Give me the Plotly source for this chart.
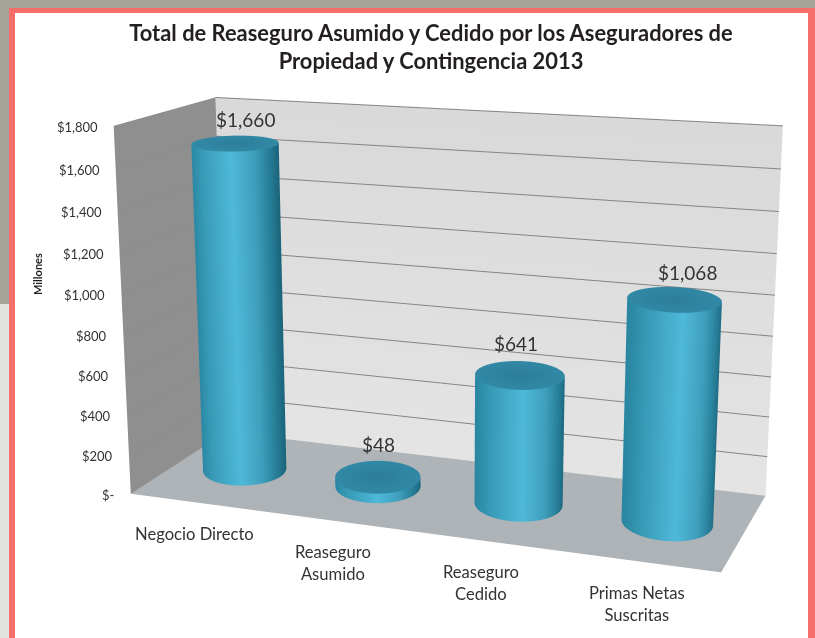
import numpy as np
import plotly.graph_objects as go

# ---- data ----
categories = ["Negocio Directo", "Reaseguro<br>Asumido", "Reaseguro<br>Cedido", "Primas Netas<br>Suscritas"]
values = [1660, 48, 641, 1068]
value_labels = ["$1,660", "$48", "$641", "$1,068"]
tick_values = [0, 200, 400, 600, 800, 1000, 1200, 1400, 1600, 1800]
tick_labels = ["$-", "$200", "$400", "$600", "$800", "$1,000", "$1,200", "$1,400", "$1,600", "$1,800"]
title = "Total de Reaseguro Asumido y Cedido por los Aseguradores de<br>Propiedad y Contingencia 2013"
axis_title = "<b>Millones</b>"

# ---- label nudges (px) ----
label_dx = [10, 1, -4, 13]
label_dy = [24, 32, 32, 27]

# ---- oblique box of the chart: u across, v in depth, value up ----
ZMAX = 1800
def sx(u, v, val): return u + 0.10456 * v - 0.05025 * (val / ZMAX)
def sy(u, v, val): return 0.18773 * v + 0.27132 * (val / ZMAX)
XR, YR, ZR = [-0.08, 1.14], [-0.02, 0.48], [-20, 1820]
ASPECT = dict(x=XR[1] - XR[0], y=YR[1] - YR[0], z=0.57487 * (ZR[1] - ZR[0]) / ZMAX)
MID = np.array([sum(XR) / 2, sum(YR) / 2, 0.57487 * sum(ZR) / 2 / ZMAX])
EYE = np.array([0.65764, -0.89246, 0.983]) - MID
FWD = np.array([-0.14889, 0.83535, -0.52917])
UP = [-0.09026, 0.52142, 0.84852]

# cylinder cross-section in (u, v): its two conjugate radii
RAD_A, RAD_B = (0.068, 0.0692), (0.0309, -0.2186)
FLAT = dict(ambient=1, diffuse=0, specular=0, roughness=1, fresnel=0)
SIDE_SCALE = [[0, "#2a86a1"], [0.15, "#379ab6"], [0.5, "#4fb9d9"], [0.75, "#3f9fbc"], [0.92, "#257b94"], [1, "#1b667c"]]
CAP_SCALE = [[0, "#2c7e9a"], [1, "#3189a6"]]

def patch(u, v, val, color, scale, cmin=0, cmax=1):
    return go.Surface(x=sx(u, v, val), y=sy(u, v, val), z=val, surfacecolor=color, colorscale=scale,
                      cmin=cmin, cmax=cmax, showscale=False, lighting=FLAT, hoverinfo="skip",
                      contours=dict(x=dict(highlight=False), y=dict(highlight=False), z=dict(highlight=False)))

traces = []
g = np.linspace(0, 1, 2)
uu, ww = np.meshgrid(g, g)
traces.append(patch(uu, np.ones_like(uu), ww * ZMAX, 1 - ww, [[0, "#d9d9d9"], [1, "#e4e4e4"]]))   # back wall
traces.append(patch(np.zeros_like(uu), uu, ww * ZMAX, ww, [[0, "#8f8f8f"], [1, "#8f8f8f"]]))      # left wall
traces.append(patch(uu, ww, np.zeros_like(uu), ww, [[0, "#adb3b6"], [1, "#aeb4b7"]]))             # floor

# grid lines on the walls
bx, by, bz, lx, ly, lz = [], [], [], [], [], []
for t in tick_values[1:]:
    bx += [sx(0, .998, t), sx(1, .998, t), None]
    by += [sy(0, .998, t), sy(1, .998, t), None]
    bz += [t, t, None]
    lx += [sx(.002, 0, t), sx(.002, 1, t), None]
    ly += [sy(.002, 0, t), sy(.002, 1, t), None]
    lz += [t, t, None]
traces.append(go.Scatter3d(x=bx, y=by, z=bz, mode="lines", line=dict(color="#858585", width=2), hoverinfo="skip"))
traces.append(go.Scatter3d(x=lx, y=ly, z=lz, mode="lines", line=dict(color="#898989", width=1), hoverinfo="skip"))

# cylinders
theta = np.linspace(0, 2 * np.pi, 121)
ca, sa = np.cos(theta), np.sin(theta)
DU, DV = RAD_A[0] * ca + RAD_B[0] * sa, RAD_A[1] * ca + RAD_B[1] * sa
for i, val in enumerate(values):
    cu = (i + 0.5) / len(values)
    U, V = cu + DU, 0.5 + DV
    rows = np.array([0, 0.5, 1]) * val
    traces.append(patch(np.tile(U, (3, 1)), np.tile(V, (3, 1)), np.outer(rows, np.ones_like(theta)),
                        np.tile(ca, (3, 1)), SIDE_SCALE, -1, 1))
    r = np.array([0, 1.0])
    traces.append(patch(cu + np.outer(r, DU), 0.5 + np.outer(r, DV),
                        np.full((2, theta.size), float(val)), np.outer(r, np.ones_like(theta)), CAP_SCALE))

# labels
FONT = "Lato, Carlito, sans-serif"
ann = []
for t, lab in zip(tick_values, tick_labels):
    ann.append(dict(x=sx(0, 0, t), y=sy(0, 0, t), z=t, text=lab, showarrow=False, xanchor="right", yanchor="middle",
                    xshift=-14, yshift=-1, font=dict(family=FONT, size=13, color="#333333")))
for i, c in enumerate(categories):
    cu = (i + 0.5) / len(categories)
    ann.append(dict(x=sx(cu, 0, 0), y=sy(cu, 0, 0), z=0, text=c, showarrow=False, xanchor="center", yanchor="top",
                    xshift=-3, yshift=-19, font=dict(family=FONT, size=16.6, color="#333333")))
for i, (val, lab) in enumerate(zip(values, value_labels)):
    cu = (i + 0.5) / len(values)
    ann.append(dict(x=sx(cu, .5, val), y=sy(cu, .5, val), z=val, text=lab, showarrow=False, xanchor="center",
                    yanchor="middle", xshift=label_dx[i], yshift=label_dy[i],
                    font=dict(family=FONT, size=19, color="#333333")))

W, H = 815, 638
def rect(x0, y0, x1, y1, color):
    return dict(type="rect", xref="paper", yref="paper", x0=x0 / W, x1=x1 / W, y0=1 - y1 / H, y1=1 - y0 / H,
                fillcolor=color, line_width=0, layer="below")

hidden = dict(visible=False)
fig = go.Figure(traces)
fig.update_layout(
    width=W, height=H, margin=dict(l=0, r=0, t=0, b=0, pad=0), paper_bgcolor="white", showlegend=False,
    title=dict(text=title, x=431 / W, xanchor="center", y=1 - 41 / H, yanchor="middle",
               font=dict(family=FONT, size=21.9, color="#231f20", weight="bold")),
    shapes=[rect(0, 0, W, 304, "#a4a49a"), rect(0, 304, W, H, "#e2e2e0"),
            rect(9, 8, W, H, "#f56e6a"), rect(15, 13, 808, H, "white")],
    annotations=[dict(xref="paper", yref="paper", x=37 / W, y=1 - 274 / H, text=axis_title, showarrow=False,
                      xanchor="center", yanchor="middle", textangle=-90,
                      font=dict(family=FONT, size=11, color="#231f20"))],
    scene=dict(
        domain=dict(x=[0, 1], y=[0, 1]), bgcolor="rgba(0,0,0,0)",
        xaxis=dict(range=XR, **hidden), yaxis=dict(range=YR, **hidden), zaxis=dict(range=ZR, **hidden),
        aspectmode="manual", aspectratio=ASPECT, annotations=ann,
        camera=dict(eye=dict(zip("xyz", EYE.tolist())), center=dict(zip("xyz", (EYE + FWD).tolist())),
                    up=dict(zip("xyz", UP)), projection=dict(type="perspective"))),
)
fig.write_html("out.html", config=dict(displayModeBar=False), post_script="document.body.style.margin='0';")
